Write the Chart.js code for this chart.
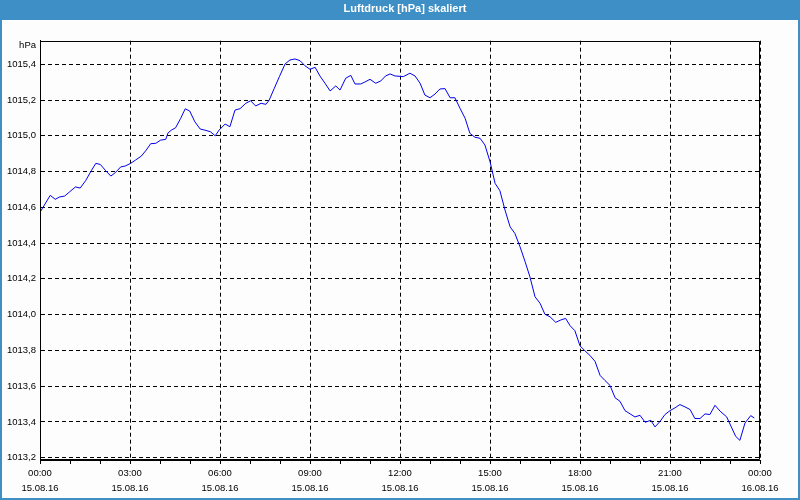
<!DOCTYPE html>
<html>
<head>
<meta charset="utf-8">
<script src="https://cdn.jsdelivr.net/npm/chart.js@4.4.0/dist/chart.umd.min.js"></script>
<style>
html,body{margin:0;padding:0;background:#fcfdfc;overflow:hidden;}
#wrap{width:800px;height:500px;position:relative;}
</style>
</head>
<body>
<div id="wrap"><canvas id="c" width="800" height="500"></canvas></div>
<script>
const titleText = 'Luftdruck [hPa] skaliert';
const unitLabel = 'hPa';
const hours = [0,0.34,0.51,0.65,0.82,0.99,1.18,1.34,1.52,1.71,1.86,2.01,2.19,2.36,2.51,2.69,2.84,3.02,3.19,3.38,3.54,3.69,3.86,4.02,4.19,4.27,4.38,4.52,4.69,4.84,4.99,5.16,5.34,5.49,5.68,5.84,5.97,6.17,6.33,6.5,6.67,6.86,7.02,7.19,7.37,7.53,7.64,7.81,7.98,8.17,8.33,8.5,8.67,8.83,9.0,9.17,9.33,9.5,9.67,9.86,10.0,10.19,10.36,10.5,10.69,10.83,11.0,11.19,11.36,11.52,11.67,11.83,12.11,12.33,12.5,12.67,12.83,13.0,13.17,13.33,13.5,13.67,13.83,14.0,14.17,14.33,14.5,14.67,14.83,15.0,15.17,15.33,15.5,15.67,15.83,16.0,16.17,16.33,16.5,16.67,16.83,17.0,17.19,17.36,17.52,17.67,17.83,18.0,18.17,18.33,18.5,18.67,18.83,19.0,19.17,19.33,19.5,19.67,19.83,20.0,20.17,20.36,20.5,20.67,20.83,21.0,21.17,21.33,21.5,21.67,21.83,22.0,22.17,22.33,22.5,22.67,22.89,23.06,23.19,23.33,23.5,23.69,23.81];
const pressure = [1014.572,1014.667,1014.645,1014.658,1014.663,1014.687,1014.714,1014.708,1014.749,1014.805,1014.846,1014.840,1014.805,1014.775,1014.794,1014.826,1014.831,1014.846,1014.865,1014.887,1014.920,1014.956,1014.958,1014.976,1014.980,1015.017,1015.032,1015.045,1015.098,1015.151,1015.139,1015.079,1015.038,1015.032,1015.023,1015.000,1015.032,1015.066,1015.051,1015.144,1015.152,1015.182,1015.196,1015.167,1015.182,1015.176,1015.200,1015.266,1015.331,1015.402,1015.424,1015.430,1015.420,1015.392,1015.372,1015.383,1015.335,1015.294,1015.251,1015.279,1015.256,1015.322,1015.338,1015.290,1015.290,1015.301,1015.316,1015.294,1015.307,1015.335,1015.346,1015.335,1015.331,1015.350,1015.335,1015.294,1015.228,1015.213,1015.234,1015.262,1015.264,1015.213,1015.213,1015.154,1015.098,1015.014,1014.992,1014.986,1014.949,1014.856,1014.734,1014.693,1014.585,1014.491,1014.454,1014.380,1014.296,1014.212,1014.100,1014.063,1014.002,1013.988,1013.957,1013.970,1013.979,1013.938,1013.910,1013.825,1013.797,1013.772,1013.739,1013.660,1013.632,1013.604,1013.535,1013.516,1013.463,1013.445,1013.428,1013.437,1013.398,1013.409,1013.372,1013.403,1013.441,1013.463,1013.479,1013.497,1013.484,1013.469,1013.419,1013.419,1013.445,1013.441,1013.493,1013.460,1013.428,1013.366,1013.319,1013.297,1013.394,1013.435,1013.422];
const yTickValues = [1013.2,1013.4,1013.6,1013.8,1014.0,1014.2,1014.4,1014.6,1014.8,1015.0,1015.2,1015.4];
const yMin = 1013.187, yMax = 1015.532, unitTickValue = 1015.508;
const xTickHours = [0,3,6,9,12,15,18,21,24];
const xTimeLabels = ['00:00','03:00','06:00','09:00','12:00','15:00','18:00','21:00','00:00'];
const xDateLabels = ['15.08.16','15.08.16','15.08.16','15.08.16','15.08.16','15.08.16','15.08.16','15.08.16','16.08.16'];

const BLUE = '#3d8fc6';
const BG = '#fcfdfc';
const tickFont = {family:'Liberation Sans', size:9.5, lineHeight:1.63};

const framePlugin = {
  id:'frame',
  beforeDraw(chart){
    const c = chart.ctx;
    c.save();
    c.fillStyle = BG; c.fillRect(0,0,800,500);
    c.fillStyle = BLUE; c.fillRect(0,0,800,20);
    c.restore();
  },
  afterDraw(chart){
    const c = chart.ctx, a = chart.chartArea;
    c.save();
    c.strokeStyle = '#000'; c.lineWidth = 1; c.setLineDash([]);
    const l = Math.round(a.left)+0.5, t = Math.round(a.top)+0.5, r = Math.round(a.right)-0.5, b = Math.round(a.bottom)-0.5;
    c.beginPath();
    c.moveTo(l,t); c.lineTo(r,t); c.lineTo(r,b); c.lineTo(l,b); c.closePath();
    c.stroke();
    c.fillStyle = BLUE;
    c.fillRect(0,20,2,480);
    c.fillRect(798,20,2,480);
    c.fillRect(0,498,800,2);
    c.restore();
  }
};

new Chart(document.getElementById('c'), {
  type:'line',
  data:{
    datasets:[{
      label:'Luftdruck',
      data: hours.map((h,i)=>({x:h, y:pressure[i]})),
      borderColor:'#0000ee',
      borderWidth:1,
      pointRadius:0,
      tension:0,
      fill:false
    }]
  },
  options:{
    responsive:false,
    animation:false,
    devicePixelRatio:1,
    layout:{padding:{left:0,right:-10,top:0,bottom:0}},
    plugins:{
      legend:{display:false},
      tooltip:{enabled:false},
      title:{
        display:true,
        text:titleText,
        color:'#ffffff',
        font:{family:'Liberation Sans', size:11, weight:'bold', lineHeight:1.2},
        padding:{top:2.4, bottom:25.1}
      }
    },
    scales:{
      x:{
        type:'linear', min:0, max:24,
        afterBuildTicks(s){ s.ticks = Array.from({length:25},(_,i)=>({value:i})); },
        afterFit(s){ s.height = 40; },
        ticks:{
          autoSkip:false, maxRotation:0, minRotation:0, padding:1.5, color:'#000', font:tickFont,
          callback:(v)=>{ const i = xTickHours.indexOf(v); return i>=0 ? [xTimeLabels[i], xDateLabels[i]] : ''; }
        },
        grid:{
          color:(ctx)=> (ctx.tick && ctx.tick.value%3===0) ? '#000' : 'rgba(0,0,0,0)',
          tickColor:'#000', tickLength:4, lineWidth:1
        },
        border:{display:true, color:'#000', dash:[4,3]}
      },
      y:{
        type:'linear', position:'left', min:yMin, max:yMax,
        afterBuildTicks(s){ s.ticks = yTickValues.map(v=>({value:v})).concat([{value:unitTickValue}]); },
        afterFit(s){ s.width = 40; },
        ticks:{
          padding:4, color:'#000', font:tickFont,
          callback:(v)=> v > 1015.45 ? unitLabel : v.toFixed(1).replace('.',',')
        },
        grid:{
          drawTicks:false,
          color:(ctx)=> (ctx.tick && ctx.tick.value > 1015.45) ? 'rgba(0,0,0,0)' : '#000',
          lineWidth:1
        },
        border:{display:true, color:'#000', dash:[4,3]}
      },
      y2:{
        type:'linear', position:'right', min:0, max:1,
        afterFit(s){ s.width = 50; },
        ticks:{display:false},
        grid:{display:false, drawTicks:false},
        border:{display:false}
      }
    }
  },
  plugins:[framePlugin]
});
</script>
</body>
</html>
